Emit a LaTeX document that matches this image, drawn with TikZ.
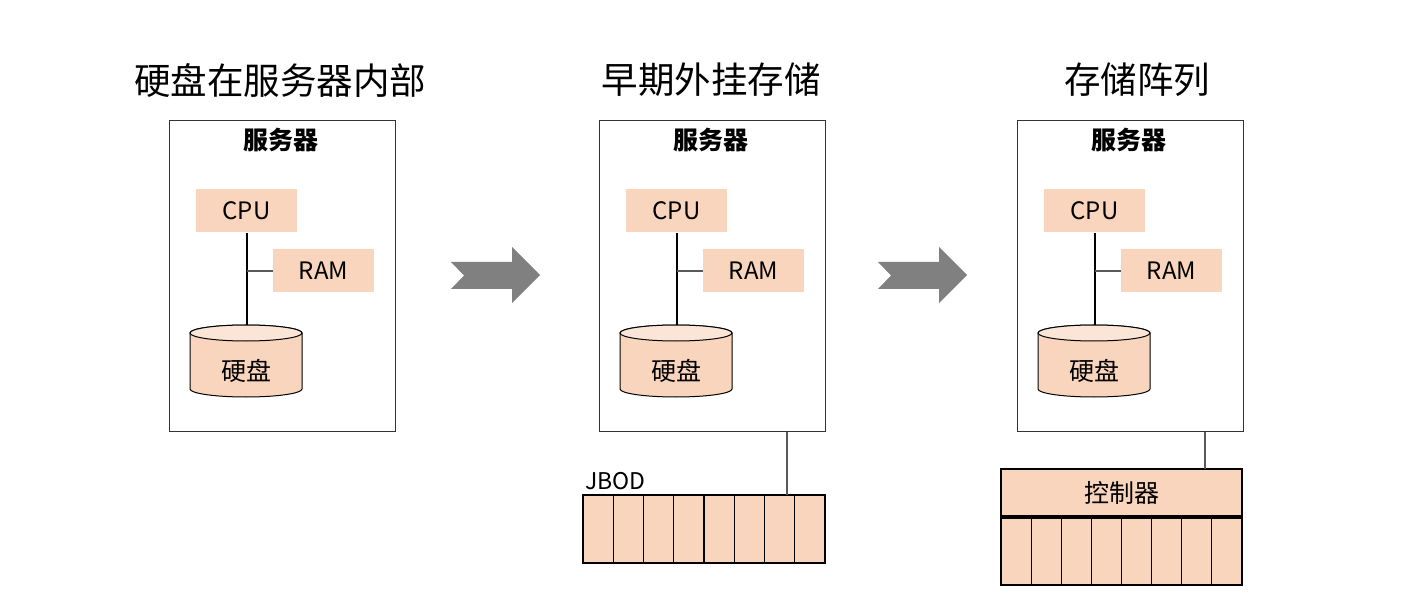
\documentclass[tikz,border=0pt]{standalone}
\usepackage{fontspec}
\setmainfont{Noto Sans CJK SC}
\usetikzlibrary{positioning}
\definecolor{diskfill}{RGB}{248,213,188}
\definecolor{disktop}{RGB}{251,229,214}
\definecolor{arrowgray}{RGB}{128,128,128}
\tikzstyle{title} = [font=\fontsize{36.5}{42}\selectfont]
\tikzstyle{server} = [draw=black!80, line width=1pt, minimum width=226pt, minimum height=310pt, inner sep=0pt]
\tikzstyle{part} = [fill=diskfill, minimum width=101pt, minimum height=43pt, inner sep=0pt, font=\fontsize{24}{28}\selectfont]
\tikzstyle{shelf} = [draw=black, line width=1.2pt, fill=diskfill, inner sep=0pt]
\tikzstyle{cell} = [draw=black, line width=1.2pt]
\tikzstyle{bus} = [line width=2pt, black]
\tikzstyle{tap} = [line width=1.3pt, black!65]
\tikzstyle{link} = [line width=1.5pt, black!65]

\begin{document}
\begin{tikzpicture}[x=1pt, y=-1pt]
\useasboundingbox (0,0) rectangle (1411,612);

% Titles
\node[title] (titleA) at (280,80) {硬盘在服务器内部};
\node[title] (titleB) at (711,80) {早期外挂存储};
\node[title] (titleC) at (1137,80) {存储阵列};

% Servers
\foreach \p/\dx in {A/0,B/430,C/848}{
\begin{scope}[xshift=\dx pt]
\node[server] (srv\p) at (282,276) {};
\node[font=\bfseries\fontsize{25}{28}\selectfont] (name\p) at (281,140) {服务器};
\node[part] (cpu\p) at (246.5,211) {CPU};
\node[part] (ram\p) at (323.5,271) {RAM};
% disk
\filldraw[line width=1pt, fill=diskfill] (190,333) -- (190,389)
  arc[start angle=180, end angle=360, x radius=56pt, y radius=8pt] -- (302,333)
  arc[start angle=0, end angle=180, x radius=56pt, y radius=8pt] -- cycle;
\filldraw[line width=1pt, fill=disktop] (246,333) ellipse[x radius=56pt, y radius=8pt];
\coordinate (top\p) at (246.5,325);
\node[font=\fontsize{25}{28}\selectfont] (disk\p) at (246,371) {硬盘};
\draw[bus] (cpu\p.south) -- (top\p);
\draw[tap] (cpu\p.south |- ram\p.west) -- (ram\p.west);
\end{scope}
}

% Arrows
\foreach \dx in {0,427}{
\fill[arrowgray, xshift=\dx pt] (451,262) -- (512,262) -- (512,247) -- (540,275)
  -- (512,303) -- (512,289) -- (451,289) -- (464,275.5) -- cycle;
}

% JBOD
\node[shelf, minimum width=242pt, minimum height=68pt] (jbod) at (704,529) {};
\foreach \i in {1,...,7}
  \draw[cell] (583+\i*30.25,495) -- (583+\i*30.25,563);
\node[anchor=base west, inner sep=0pt, font=\fontsize{23}{26}\selectfont] (jbodname) at (585,489) {JBOD};
\coordinate (jbodIn) at (787,495);
\draw[link] (srvB.south -| jbodIn) -- (jbodIn);

% Array
\node[shelf, minimum width=241pt, minimum height=47pt, font=\fontsize{25}{28}\selectfont] (ctrl) at (1121.5,492.5) {控制器};
\node[shelf, minimum width=241pt, minimum height=67pt] (array) at (1121.5,551.5) {};
\foreach \i in {1,...,7}
  \draw[cell] (1001+\i*30.125,518) -- (1001+\i*30.125,585);
\coordinate (ctrlIn) at (1205,469);
\draw[link] (srvC.south -| ctrlIn) -- (ctrlIn);
\end{tikzpicture}
\end{document}
